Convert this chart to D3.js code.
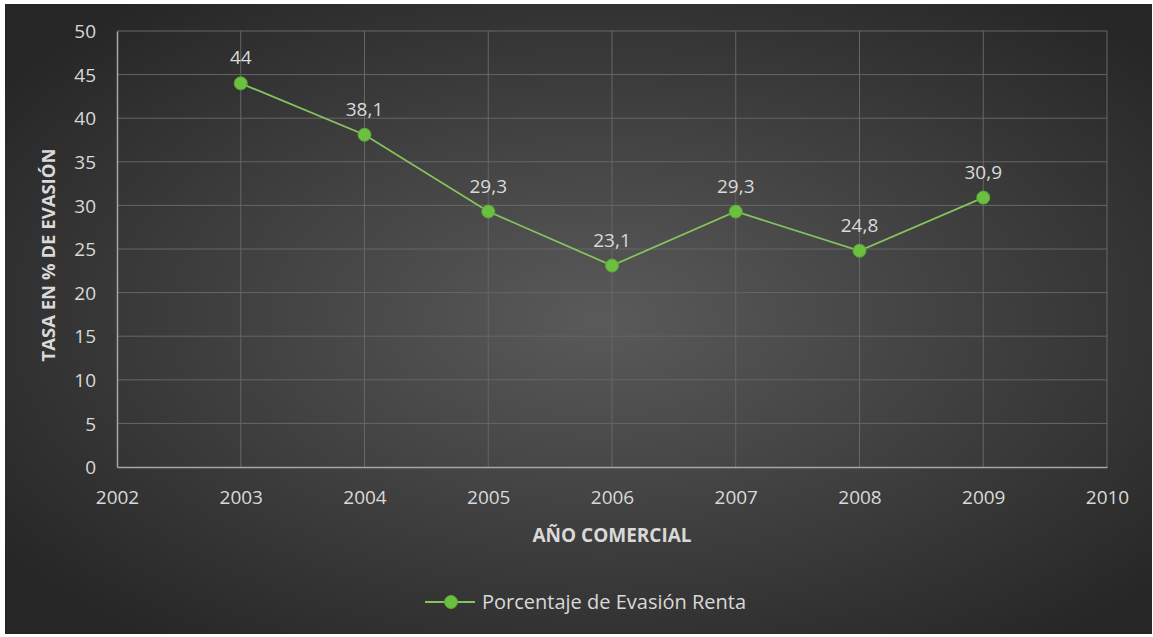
<!DOCTYPE html>
<html>
<head>
<meta charset="utf-8">
<script src="https://cdn.jsdelivr.net/npm/d3@7"></script>
<style>
  body { margin: 0; background: #fff; }
  svg text { font-family: "Open Sans", "Noto Sans", sans-serif; }
</style>
</head>
<body>
<div id="chart"></div>
<script>
const years = [2003, 2004, 2005, 2006, 2007, 2008, 2009];
const evasion = [44, 38.1, 29.3, 23.1, 29.3, 24.8, 30.9];
const yTicks = [0, 5, 10, 15, 20, 25, 30, 35, 40, 45, 50];
const xTicks = [2002, 2003, 2004, 2005, 2006, 2007, 2008, 2009, 2010];
const seriesName = "Porcentaje de Evasión Renta";

const width = 1153;
const height = 637;
const margin = { top: 31, right: 46, bottom: 170, left: 117 };

const svg = d3
  .select("#chart")
  .append("svg")
  .attr("width", width)
  .attr("height", height);

// background gradient
const defs = svg.append("defs");
const grad = defs
  .append("radialGradient")
  .attr("id", "bg")
  .attr("cx", "52%")
  .attr("cy", "50%")
  .attr("r", "65%");
grad.append("stop").attr("offset", "0%").attr("stop-color", "#5a5a5a");
grad.append("stop").attr("offset", "100%").attr("stop-color", "#262626");

svg
  .append("rect")
  .attr("x", 5)
  .attr("y", 4)
  .attr("width", width - 6)
  .attr("height", height - 7)
  .attr("fill", "url(#bg)");

const x = d3
  .scaleLinear()
  .domain([2002, 2010])
  .range([margin.left, width - margin.right]);

const y = d3
  .scaleLinear()
  .domain([0, 50])
  .range([height - margin.bottom, margin.top]);

// gridlines
svg
  .append("g")
  .selectAll("line")
  .data(yTicks.filter((d) => d > 0))
  .enter()
  .append("line")
  .attr("x1", x(2002))
  .attr("x2", x(2010))
  .attr("y1", (d) => y(d))
  .attr("y2", (d) => y(d))
  .attr("stroke", "#666666")
  .attr("stroke-width", 1);

svg
  .append("g")
  .selectAll("line")
  .data(xTicks.filter((d) => d > 2002))
  .enter()
  .append("line")
  .attr("x1", (d) => x(d))
  .attr("x2", (d) => x(d))
  .attr("y1", y(0))
  .attr("y2", y(50))
  .attr("stroke", "#666666")
  .attr("stroke-width", 1);

// axes
const xAxis = svg
  .append("g")
  .attr("transform", `translate(0,${y(0)})`)
  .call(d3.axisBottom(x).tickValues(xTicks).tickFormat(d3.format("d")).tickSize(0).tickPadding(24));

const yAxis = svg
  .append("g")
  .attr("transform", `translate(${x(2002)},0)`)
  .call(d3.axisLeft(y).tickValues(yTicks).tickSize(0).tickPadding(21));

[xAxis, yAxis].forEach((g) => {
  g.select(".domain").attr("stroke", "#a6a6a6").attr("stroke-width", 1.5);
  g.selectAll("text")
    .attr("fill", "#d9d9d9")
    .style("font-size", "19px");
});
yAxis.selectAll("text").attr("dy", "0.35em");

// axis titles
svg
  .append("text")
  .attr("x", (x(2002) + x(2010)) / 2)
  .attr("y", 542)
  .attr("text-anchor", "middle")
  .attr("fill", "#d9d9d9")
  .style("font-size", "19px")
  .style("font-weight", "bold")
  .text("AÑO COMERCIAL");

svg
  .append("text")
  .attr("transform", `translate(55,${(y(0) + y(50)) / 2 + 6}) rotate(-90)`)
  .attr("text-anchor", "middle")
  .attr("fill", "#d9d9d9")
  .style("font-size", "18.5px")
  .style("font-weight", "bold")
  .text("TASA EN % DE EVASIÓN");

// line
const points = years.map((yr, i) => ({ year: yr, value: evasion[i] }));

const line = d3
  .line()
  .x((d) => x(d.year))
  .y((d) => y(d.value));

svg
  .append("path")
  .datum(points)
  .attr("d", line)
  .attr("fill", "none")
  .attr("stroke", "#86c35a")
  .attr("stroke-width", 1.8);

svg
  .append("g")
  .selectAll("circle")
  .data(points)
  .enter()
  .append("circle")
  .attr("cx", (d) => x(d.year))
  .attr("cy", (d) => y(d.value))
  .attr("r", 6.5)
  .attr("fill", "#6cc040")
  .attr("stroke", "#5aa836")
  .attr("stroke-width", 1);

// data labels
svg
  .append("g")
  .selectAll("text")
  .data(points)
  .enter()
  .append("text")
  .attr("x", (d) => x(d.year))
  .attr("y", (d) => y(d.value) - 19)
  .attr("text-anchor", "middle")
  .attr("fill", "#d9d9d9")
  .style("font-size", "19px")
  .text((d) => String(d.value).replace(".", ","));

// legend
const legend = svg.append("g").attr("transform", "translate(425,602)");
legend
  .append("line")
  .attr("x1", 0)
  .attr("x2", 50)
  .attr("stroke", "#86c35a")
  .attr("stroke-width", 1.8);
legend
  .append("circle")
  .attr("cx", 26)
  .attr("r", 6.5)
  .attr("fill", "#6cc040")
  .attr("stroke", "#5aa836");
legend
  .append("text")
  .attr("x", 57)
  .attr("dy", "0.35em")
  .attr("fill", "#d9d9d9")
  .style("font-size", "20px")
  .text(seriesName);
</script>
</body>
</html>
